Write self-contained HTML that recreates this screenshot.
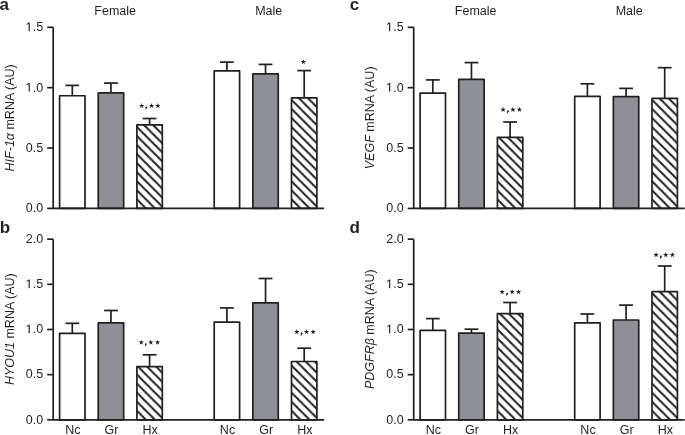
<!DOCTYPE html>
<html><head><meta charset="utf-8"><style>
html,body{margin:0;padding:0;background:#fff;width:685px;height:435px;overflow:hidden}
svg{display:block;will-change:transform}
text{font-family:"Liberation Sans",sans-serif;fill:#231f20;stroke:none}
.tl{font-size:12.5px}
.one{fill:#231f20;stroke:none}
.gl{font-size:12.5px}
.xl{font-size:12.5px}
.yl{font-size:12.5px}
.st{font-size:11px}
.pl{font-size:17px;font-weight:bold}
</style></head><body>
<svg width="685" height="435" viewBox="0 0 685 435">
<defs>
<pattern id="h1" patternUnits="userSpaceOnUse" x="136.9" y="208.4" width="9.05" height="9.05"><rect width="9.05" height="9.05" fill="#fff"/><path d="M-9.05,0 L9.05,18.1 M0,0 L9.05,9.05 M0,-9.05 L18.1,9.05" stroke="#231f20" stroke-width="2" fill="none"/></pattern>
<pattern id="h2" patternUnits="userSpaceOnUse" x="291.5" y="208.4" width="9.05" height="9.05"><rect width="9.05" height="9.05" fill="#fff"/><path d="M-9.05,0 L9.05,18.1 M0,0 L9.05,9.05 M0,-9.05 L18.1,9.05" stroke="#231f20" stroke-width="2" fill="none"/></pattern>
<pattern id="h3" patternUnits="userSpaceOnUse" x="136.9" y="419.8" width="9.05" height="9.05"><rect width="9.05" height="9.05" fill="#fff"/><path d="M-9.05,0 L9.05,18.1 M0,0 L9.05,9.05 M0,-9.05 L18.1,9.05" stroke="#231f20" stroke-width="2" fill="none"/></pattern>
<pattern id="h4" patternUnits="userSpaceOnUse" x="291.5" y="419.8" width="9.05" height="9.05"><rect width="9.05" height="9.05" fill="#fff"/><path d="M-9.05,0 L9.05,18.1 M0,0 L9.05,9.05 M0,-9.05 L18.1,9.05" stroke="#231f20" stroke-width="2" fill="none"/></pattern>
<pattern id="h5" patternUnits="userSpaceOnUse" x="497.4" y="208.4" width="9.05" height="9.05"><rect width="9.05" height="9.05" fill="#fff"/><path d="M-9.05,0 L9.05,18.1 M0,0 L9.05,9.05 M0,-9.05 L18.1,9.05" stroke="#231f20" stroke-width="2" fill="none"/></pattern>
<pattern id="h6" patternUnits="userSpaceOnUse" x="652" y="208.4" width="9.05" height="9.05"><rect width="9.05" height="9.05" fill="#fff"/><path d="M-9.05,0 L9.05,18.1 M0,0 L9.05,9.05 M0,-9.05 L18.1,9.05" stroke="#231f20" stroke-width="2" fill="none"/></pattern>
<pattern id="h7" patternUnits="userSpaceOnUse" x="497.4" y="419.8" width="9.05" height="9.05"><rect width="9.05" height="9.05" fill="#fff"/><path d="M-9.05,0 L9.05,18.1 M0,0 L9.05,9.05 M0,-9.05 L18.1,9.05" stroke="#231f20" stroke-width="2" fill="none"/></pattern>
<pattern id="h8" patternUnits="userSpaceOnUse" x="652" y="419.8" width="9.05" height="9.05"><rect width="9.05" height="9.05" fill="#fff"/><path d="M-9.05,0 L9.05,18.1 M0,0 L9.05,9.05 M0,-9.05 L18.1,9.05" stroke="#231f20" stroke-width="2" fill="none"/></pattern>
</defs>
<g stroke="#231f20" stroke-width="1.7" stroke-linecap="butt" stroke-linejoin="round">
<line x1="72.3" y1="85.4" x2="72.3" y2="95.75"/>
<line x1="65.4" y1="85.4" x2="79.2" y2="85.4"/>
<rect x="59.6" y="95.75" width="25.4" height="112.65" fill="#fff"/>
<line x1="110.95" y1="83.1" x2="110.95" y2="92.8"/>
<line x1="104.05" y1="83.1" x2="117.85" y2="83.1"/>
<rect x="98.25" y="92.8" width="25.4" height="115.6" fill="#8f9095"/>
<line x1="149.6" y1="118.5" x2="149.6" y2="124.8"/>
<line x1="142.7" y1="118.5" x2="156.5" y2="118.5"/>
<rect x="136.9" y="124.8" width="25.4" height="83.6" fill="url(#h1)"/>
<line x1="226.9" y1="62.1" x2="226.9" y2="70.8"/>
<line x1="220" y1="62.1" x2="233.8" y2="62.1"/>
<rect x="214.2" y="70.8" width="25.4" height="137.6" fill="#fff"/>
<line x1="265.55" y1="64.4" x2="265.55" y2="73.9"/>
<line x1="258.65" y1="64.4" x2="272.45" y2="64.4"/>
<rect x="252.85" y="73.9" width="25.4" height="134.5" fill="#8f9095"/>
<line x1="304.2" y1="70.6" x2="304.2" y2="97.9"/>
<line x1="297.3" y1="70.6" x2="311.1" y2="70.6"/>
<rect x="291.5" y="97.9" width="25.4" height="110.5" fill="url(#h2)"/>
<path d="M53.2,27.3 V208.4 H324.2" fill="none"/>
<line x1="47.2" y1="208.4" x2="53.2" y2="208.4"/>
<text class="tl" x="43.2" y="212.25" text-anchor="end">0.0</text>
<line x1="47.2" y1="148.03" x2="53.2" y2="148.03"/>
<text class="tl" x="43.2" y="151.88" text-anchor="end">0.5</text>
<line x1="47.2" y1="87.67" x2="53.2" y2="87.67"/>
<path class="one" transform="translate(25.83,91.52) scale(0.006104,-0.006104)" d="M455,0H645V1409H470L130,1175V995L455,1225Z"/>
<text class="tl" x="32.78" y="91.52">.0</text>
<line x1="47.2" y1="27.3" x2="53.2" y2="27.3"/>
<path class="one" transform="translate(25.83,31.15) scale(0.006104,-0.006104)" d="M455,0H645V1409H470L130,1175V995L455,1225Z"/>
<text class="tl" x="32.78" y="31.15">.5</text>
<line x1="72.3" y1="323.3" x2="72.3" y2="333.3"/>
<line x1="65.4" y1="323.3" x2="79.2" y2="323.3"/>
<rect x="59.6" y="333.3" width="25.4" height="86.5" fill="#fff"/>
<line x1="110.95" y1="310.5" x2="110.95" y2="322.8"/>
<line x1="104.05" y1="310.5" x2="117.85" y2="310.5"/>
<rect x="98.25" y="322.8" width="25.4" height="97" fill="#8f9095"/>
<line x1="149.6" y1="354.8" x2="149.6" y2="366.6"/>
<line x1="142.7" y1="354.8" x2="156.5" y2="354.8"/>
<rect x="136.9" y="366.6" width="25.4" height="53.2" fill="url(#h3)"/>
<line x1="226.9" y1="307.9" x2="226.9" y2="322.2"/>
<line x1="220" y1="307.9" x2="233.8" y2="307.9"/>
<rect x="214.2" y="322.2" width="25.4" height="97.6" fill="#fff"/>
<line x1="265.55" y1="278.5" x2="265.55" y2="302.9"/>
<line x1="258.65" y1="278.5" x2="272.45" y2="278.5"/>
<rect x="252.85" y="302.9" width="25.4" height="116.9" fill="#8f9095"/>
<line x1="304.2" y1="348.2" x2="304.2" y2="361.5"/>
<line x1="297.3" y1="348.2" x2="311.1" y2="348.2"/>
<rect x="291.5" y="361.5" width="25.4" height="58.3" fill="url(#h4)"/>
<path d="M53.2,239.15 V419.8 H324.2" fill="none"/>
<line x1="47.2" y1="419.8" x2="53.2" y2="419.8"/>
<text class="tl" x="43.2" y="423.65" text-anchor="end">0.0</text>
<line x1="47.2" y1="374.64" x2="53.2" y2="374.64"/>
<text class="tl" x="43.2" y="378.49" text-anchor="end">0.5</text>
<line x1="47.2" y1="329.48" x2="53.2" y2="329.48"/>
<path class="one" transform="translate(25.83,333.33) scale(0.006104,-0.006104)" d="M455,0H645V1409H470L130,1175V995L455,1225Z"/>
<text class="tl" x="32.78" y="333.33">.0</text>
<line x1="47.2" y1="284.31" x2="53.2" y2="284.31"/>
<path class="one" transform="translate(25.83,288.16) scale(0.006104,-0.006104)" d="M455,0H645V1409H470L130,1175V995L455,1225Z"/>
<text class="tl" x="32.78" y="288.16">.5</text>
<line x1="47.2" y1="239.15" x2="53.2" y2="239.15"/>
<text class="tl" x="43.2" y="243" text-anchor="end">2.0</text>
<line x1="432.8" y1="79.9" x2="432.8" y2="93.2"/>
<line x1="425.9" y1="79.9" x2="439.7" y2="79.9"/>
<rect x="420.1" y="93.2" width="25.4" height="115.2" fill="#fff"/>
<line x1="471.45" y1="62.6" x2="471.45" y2="79.4"/>
<line x1="464.55" y1="62.6" x2="478.35" y2="62.6"/>
<rect x="458.75" y="79.4" width="25.4" height="129" fill="#8f9095"/>
<line x1="510.1" y1="122" x2="510.1" y2="137.4"/>
<line x1="503.2" y1="122" x2="517" y2="122"/>
<rect x="497.4" y="137.4" width="25.4" height="71" fill="url(#h5)"/>
<line x1="587.4" y1="83.8" x2="587.4" y2="96.4"/>
<line x1="580.5" y1="83.8" x2="594.3" y2="83.8"/>
<rect x="574.7" y="96.4" width="25.4" height="112" fill="#fff"/>
<line x1="626.05" y1="88.4" x2="626.05" y2="96.7"/>
<line x1="619.15" y1="88.4" x2="632.95" y2="88.4"/>
<rect x="613.35" y="96.7" width="25.4" height="111.7" fill="#8f9095"/>
<line x1="664.7" y1="67.7" x2="664.7" y2="98.3"/>
<line x1="657.8" y1="67.7" x2="671.6" y2="67.7"/>
<rect x="652" y="98.3" width="25.4" height="110.1" fill="url(#h6)"/>
<path d="M413.7,27.3 V208.4 H684.7" fill="none"/>
<line x1="407.7" y1="208.4" x2="413.7" y2="208.4"/>
<text class="tl" x="403.7" y="212.25" text-anchor="end">0.0</text>
<line x1="407.7" y1="148.03" x2="413.7" y2="148.03"/>
<text class="tl" x="403.7" y="151.88" text-anchor="end">0.5</text>
<line x1="407.7" y1="87.67" x2="413.7" y2="87.67"/>
<path class="one" transform="translate(386.32,91.52) scale(0.006104,-0.006104)" d="M455,0H645V1409H470L130,1175V995L455,1225Z"/>
<text class="tl" x="393.27" y="91.52">.0</text>
<line x1="407.7" y1="27.3" x2="413.7" y2="27.3"/>
<path class="one" transform="translate(386.32,31.15) scale(0.006104,-0.006104)" d="M455,0H645V1409H470L130,1175V995L455,1225Z"/>
<text class="tl" x="393.27" y="31.15">.5</text>
<line x1="432.8" y1="318.6" x2="432.8" y2="330.3"/>
<line x1="425.9" y1="318.6" x2="439.7" y2="318.6"/>
<rect x="420.1" y="330.3" width="25.4" height="89.5" fill="#fff"/>
<line x1="471.45" y1="329.2" x2="471.45" y2="333.1"/>
<line x1="464.55" y1="329.2" x2="478.35" y2="329.2"/>
<rect x="458.75" y="333.1" width="25.4" height="86.7" fill="#8f9095"/>
<line x1="510.1" y1="302.5" x2="510.1" y2="313.6"/>
<line x1="503.2" y1="302.5" x2="517" y2="302.5"/>
<rect x="497.4" y="313.6" width="25.4" height="106.2" fill="url(#h7)"/>
<line x1="587.4" y1="314" x2="587.4" y2="322.8"/>
<line x1="580.5" y1="314" x2="594.3" y2="314"/>
<rect x="574.7" y="322.8" width="25.4" height="97" fill="#fff"/>
<line x1="626.05" y1="305.1" x2="626.05" y2="320"/>
<line x1="619.15" y1="305.1" x2="632.95" y2="305.1"/>
<rect x="613.35" y="320" width="25.4" height="99.8" fill="#8f9095"/>
<line x1="664.7" y1="266" x2="664.7" y2="291.7"/>
<line x1="657.8" y1="266" x2="671.6" y2="266"/>
<rect x="652" y="291.7" width="25.4" height="128.1" fill="url(#h8)"/>
<path d="M413.7,239.15 V419.8 H684.7" fill="none"/>
<line x1="407.7" y1="419.8" x2="413.7" y2="419.8"/>
<text class="tl" x="403.7" y="423.65" text-anchor="end">0.0</text>
<line x1="407.7" y1="374.64" x2="413.7" y2="374.64"/>
<text class="tl" x="403.7" y="378.49" text-anchor="end">0.5</text>
<line x1="407.7" y1="329.48" x2="413.7" y2="329.48"/>
<path class="one" transform="translate(386.32,333.33) scale(0.006104,-0.006104)" d="M455,0H645V1409H470L130,1175V995L455,1225Z"/>
<text class="tl" x="393.27" y="333.33">.0</text>
<line x1="407.7" y1="284.31" x2="413.7" y2="284.31"/>
<path class="one" transform="translate(386.32,288.16) scale(0.006104,-0.006104)" d="M455,0H645V1409H470L130,1175V995L455,1225Z"/>
<text class="tl" x="393.27" y="288.16">.5</text>
<line x1="407.7" y1="239.15" x2="413.7" y2="239.15"/>
<text class="tl" x="403.7" y="243" text-anchor="end">2.0</text>
</g>
<g fill="#231f20" stroke="none">
<polygon points="141.75,102.95 142.4,104.91 144.46,104.92 142.8,106.14 143.43,108.11 141.75,106.9 140.07,108.11 140.7,106.14 139.04,104.92 141.1,104.91"/>
<polygon points="151.55,102.95 152.2,104.91 154.26,104.92 152.6,106.14 153.23,108.11 151.55,106.9 149.87,108.11 150.5,106.14 148.84,104.92 150.9,104.91"/>
<polygon points="157.85,102.95 158.5,104.91 160.56,104.92 158.9,106.14 159.53,108.11 157.85,106.9 156.17,108.11 156.8,106.14 155.14,104.92 157.2,104.91"/>
<circle cx="146.35" cy="107.4" r="0.95"/><path d="M147.25,107.5 L145.5,110.1 L145.6,107.8 Z"/>
<polygon points="141.3,339.65 141.95,341.61 144.01,341.62 142.35,342.84 142.98,344.81 141.3,343.6 139.62,344.81 140.25,342.84 138.59,341.62 140.65,341.61"/>
<polygon points="150.85,339.65 151.5,341.61 153.56,341.62 151.9,342.84 152.53,344.81 150.85,343.6 149.17,344.81 149.8,342.84 148.14,341.62 150.2,341.61"/>
<polygon points="157.55,339.65 158.2,341.61 160.26,341.62 158.6,342.84 159.23,344.81 157.55,343.6 155.87,344.81 156.5,342.84 154.84,341.62 156.9,341.61"/>
<circle cx="145.85" cy="344.1" r="0.95"/><path d="M146.75,344.2 L145,346.8 L145.1,344.5 Z"/>
<polygon points="296.8,329 297.45,330.96 299.51,330.97 297.85,332.19 298.48,334.16 296.8,332.95 295.12,334.16 295.75,332.19 294.09,330.97 296.15,330.96"/>
<polygon points="306.55,329 307.2,330.96 309.26,330.97 307.6,332.19 308.23,334.16 306.55,332.95 304.87,334.16 305.5,332.19 303.84,330.97 305.9,330.96"/>
<polygon points="313.1,329 313.75,330.96 315.81,330.97 314.15,332.19 314.78,334.16 313.1,332.95 311.42,334.16 312.05,332.19 310.39,330.97 312.45,330.96"/>
<circle cx="301.55" cy="333.45" r="0.95"/><path d="M302.45,333.55 L300.7,336.15 L300.8,333.85 Z"/>
<polygon points="503.1,106.75 503.75,108.71 505.81,108.72 504.15,109.94 504.78,111.91 503.1,110.7 501.42,111.91 502.05,109.94 500.39,108.72 502.45,108.71"/>
<polygon points="512.95,106.75 513.6,108.71 515.66,108.72 514,109.94 514.63,111.91 512.95,110.7 511.27,111.91 511.9,109.94 510.24,108.72 512.3,108.71"/>
<polygon points="519.4,106.75 520.05,108.71 522.11,108.72 520.45,109.94 521.08,111.91 519.4,110.7 517.72,111.91 518.35,109.94 516.69,108.72 518.75,108.71"/>
<circle cx="507.95" cy="111.2" r="0.95"/><path d="M508.85,111.3 L507.1,113.9 L507.2,111.6 Z"/>
<polygon points="502.1,289.15 502.75,291.11 504.81,291.12 503.15,292.34 503.78,294.31 502.1,293.1 500.42,294.31 501.05,292.34 499.39,291.12 501.45,291.11"/>
<polygon points="512.15,289.15 512.8,291.11 514.86,291.12 513.2,292.34 513.83,294.31 512.15,293.1 510.47,294.31 511.1,292.34 509.44,291.12 511.5,291.11"/>
<polygon points="518.55,289.15 519.2,291.11 521.26,291.12 519.6,292.34 520.23,294.31 518.55,293.1 516.87,294.31 517.5,292.34 515.84,291.12 517.9,291.11"/>
<circle cx="507.05" cy="293.6" r="0.95"/><path d="M507.95,293.7 L506.2,296.3 L506.3,294 Z"/>
<polygon points="656.1,252.1 656.75,254.06 658.81,254.07 657.15,255.29 657.78,257.26 656.1,256.05 654.42,257.26 655.05,255.29 653.39,254.07 655.45,254.06"/>
<polygon points="665.75,252.1 666.4,254.06 668.46,254.07 666.8,255.29 667.43,257.26 665.75,256.05 664.07,257.26 664.7,255.29 663.04,254.07 665.1,254.06"/>
<polygon points="672.4,252.1 673.05,254.06 675.11,254.07 673.45,255.29 674.08,257.26 672.4,256.05 670.72,257.26 671.35,255.29 669.69,254.07 671.75,254.06"/>
<circle cx="660.85" cy="256.55" r="0.95"/><path d="M661.75,256.65 L660,259.25 L660.1,256.95 Z"/>
<polygon points="303.35,59.15 304,61.11 306.06,61.12 304.4,62.34 305.03,64.31 303.35,63.1 301.67,64.31 302.3,62.34 300.64,61.12 302.7,61.11"/>
</g>
<text class="pl" x="-0.4" y="9.6">a</text>
<text class="pl" x="-0.2" y="233">b</text>
<text class="pl" x="349.8" y="9.6">c</text>
<text class="pl" x="349.6" y="233">d</text>
<text class="gl" x="115.2" y="15.3" text-anchor="middle">Female</text>
<text class="gl" x="268.7" y="15.3" text-anchor="middle">Male</text>
<text class="gl" x="475.7" y="15.3" text-anchor="middle">Female</text>
<text class="gl" x="629.2" y="15.3" text-anchor="middle">Male</text>
<text class="xl" x="72.9" y="434.1" text-anchor="middle">Nc</text>
<text class="xl" x="111.55" y="434.1" text-anchor="middle">Gr</text>
<text class="xl" x="150.2" y="434.1" text-anchor="middle">Hx</text>
<text class="xl" x="227.5" y="434.1" text-anchor="middle">Nc</text>
<text class="xl" x="266.15" y="434.1" text-anchor="middle">Gr</text>
<text class="xl" x="304.8" y="434.1" text-anchor="middle">Hx</text>
<text class="xl" x="433.4" y="434.1" text-anchor="middle">Nc</text>
<text class="xl" x="472.05" y="434.1" text-anchor="middle">Gr</text>
<text class="xl" x="510.7" y="434.1" text-anchor="middle">Hx</text>
<text class="xl" x="588" y="434.1" text-anchor="middle">Nc</text>
<text class="xl" x="626.65" y="434.1" text-anchor="middle">Gr</text>
<text class="xl" x="665.3" y="434.1" text-anchor="middle">Hx</text>
<text class="yl" transform="translate(13.85,117.85) rotate(-90)" x="0" y="0" text-anchor="middle"><tspan font-style="italic">HIF-1&#945;</tspan> mRNA (AU)</text>
<text class="yl" transform="translate(13.85,329.2) rotate(-90)" x="0" y="0" text-anchor="middle"><tspan font-style="italic">HYOU1</tspan> mRNA (AU)</text>
<text class="yl" transform="translate(374.35,117.85) rotate(-90)" x="0" y="0" text-anchor="middle"><tspan font-style="italic">VEGF</tspan> mRNA (AU)</text>
<text class="yl" transform="translate(374.35,329.2) rotate(-90)" x="0" y="0" text-anchor="middle"><tspan font-style="italic">PDGFR&#946;</tspan> mRNA (AU)</text>
</svg>
</body></html>
